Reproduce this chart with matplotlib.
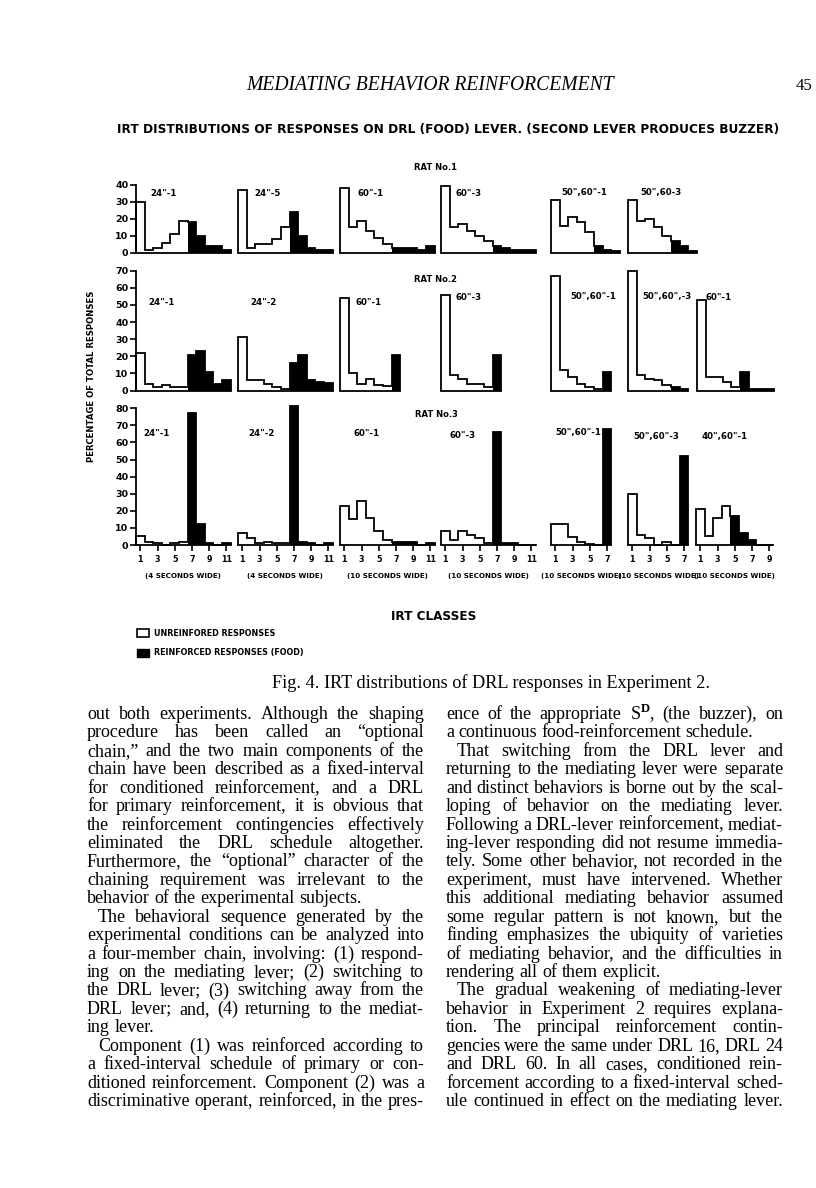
import numpy as np
import matplotlib
matplotlib.use("Agg")
import matplotlib.pyplot as plt
from matplotlib.patches import Patch

W, H = 816, 1188

# ---------------- data: percent of total responses in each IRT class ----------------
ROW1_NAMES = ['24"-1', '24"-5', '60"-1', '60"-3', '50",60"-1', '50",60-3']
ROW1_VALUES = [
    [30, 2, 3, 6, 11, 19, 18, 10, 4, 4, 2],
    [37, 3, 5, 5, 8, 15, 24, 10, 3, 2, 2],
    [38, 15, 19, 13, 9, 5, 3, 3, 3, 2, 4],
    [39, 15, 17, 13, 10, 7, 4, 3, 2, 2, 2],
    [31, 16, 21, 18, 12, 4, 2, 1],
    [31, 19, 20, 15, 10, 7, 4, 1],
]
ROW1_FOOD_FROM = [7, 7, 7, 7, 6, 6]   # first reinforced (food) IRT class

ROW2_NAMES = ['24"-1', '24"-2', '60"-1', '60"-3', '50",60"-1', '50",60",-3', '60"-1']
ROW2_VALUES = [
    [22, 4, 2, 3, 2, 2, 20.5, 23, 11, 4, 6],
    [31, 6, 6, 4, 2, 1, 16, 21, 6, 5, 4.5],
    [54, 10, 4, 7, 3.5, 2.5, 20.5],
    [56, 9, 7, 4, 4, 2, 20.5],
    [67, 12, 8, 4, 2, 1, 11],
    [70, 9, 7, 6, 3, 2, 1],
    [53, 8, 8, 5, 2, 11, 1, 1, 1],
]
ROW2_FOOD_FROM = [7, 7, 7, 7, 7, 6, 6]

ROW3_NAMES = ['24"-1', '24"-2', '60"-1', '60"-3', '50",60"-1', '50",60"-3', '40",60"-1']
ROW3_VALUES = [
    [5, 2, 1, 0, 1, 2, 77, 12, 1, 0, 1],
    [7, 4, 1, 2, 1, 1, 81, 2, 1, 0, 1],
    [23, 15, 26, 16, 8, 3, 2, 1.5, 1.5, 0, 1],
    [8, 3, 8, 6, 4, 1, 66, 1, 1, 0, 0],
    [12, 12, 4.5, 1.5, 0.5, 0, 68],
    [30, 6, 4, 0, 1.5, 0, 52],
    [21, 5, 16, 23, 17, 7, 3, 0, 0],
]
ROW3_FOOD_FROM = [7, 7, 7, 7, 7, 7, 5]
ROW3_WIDTHS = ["(4 SECONDS WIDE)", "(4 SECONDS WIDE)", "(10 SECONDS WIDE)",
               "(10 SECONDS WIDE)", "(10 SECONDS WIDE)", "(10 SECONDS WIDE)",
               "(10 SECONDS WIDE)"]

LEFT_TEXT = [
    "out both experiments. Although the shaping",
    "procedure has been called an \u201coptional",
    "chain,\u201d and the two main components of the",
    "chain have been described as a fixed-interval",
    "for conditioned reinforcement, and a DRL",
    "for primary reinforcement, it is obvious that",
    "the reinforcement contingencies effectively",
    "eliminated the DRL schedule altogether.",
    "Furthermore, the \u201coptional\u201d character of the",
    "chaining requirement was irrelevant to the",
    "behavior of the experimental subjects.",
    "\tThe behavioral sequence generated by the",
    "experimental conditions can be analyzed into",
    "a four-member chain, involving: (1) respond-",
    "ing on the mediating lever; (2) switching to",
    "the DRL lever; (3) switching away from the",
    "DRL lever; and, (4) returning to the mediat-",
    "ing lever.",
    "\tComponent (1) was reinforced according to",
    "a fixed-interval schedule of primary or con-",
    "ditioned reinforcement. Component (2) was a",
    "discriminative operant, reinforced, in the pres-",
]
RIGHT_TEXT = [
    "ence of the appropriate S$^{\\mathrm{D}}$, (the buzzer), on",
    "a continuous food-reinforcement schedule.",
    "\tThat switching from the DRL lever and",
    "returning to the mediating lever were separate",
    "and distinct behaviors is borne out by the scal-",
    "loping of behavior on the mediating lever.",
    "Following a DRL-lever reinforcement, mediat-",
    "ing-lever responding did not resume immedia-",
    "tely. Some other behavior, not recorded in the",
    "experiment, must have intervened. Whether",
    "this additional mediating behavior assumed",
    "some regular pattern is not known, but the",
    "finding emphasizes the ubiquity of varieties",
    "of mediating behavior, and the difficulties in",
    "rendering all of them explicit.",
    "\tThe gradual weakening of mediating-lever",
    "behavior in Experiment 2 requires explana-",
    "tion. The principal reinforcement contin-",
    "gencies were the same under DRL 16, DRL 24",
    "and DRL 60. In all cases, conditioned rein-",
    "forcement according to a fixed-interval sched-",
    "ule continued in effect on the mediating lever.",
]

# ---------------- layout (pixels) ----------------
PPU = 1.71      # px per percent
BIN = 8.6       # px per IRT class
LW = 1.3
SERIF = "Liberation Serif"
ROWS = [
    dict(names=ROW1_NAMES, values=ROW1_VALUES, food=ROW1_FOOD_FROM, base=253, ymax=40,
         lefts=[136, 238, 340, 441, 551, 628],
         labels=[(150, 193), (254, 193), (357, 193), (456, 193), (561, 193), (640, 193)],
         rat="RAT No.1", rat_y=168),
    dict(names=ROW2_NAMES, values=ROW2_VALUES, food=ROW2_FOOD_FROM, base=390.5, ymax=70,
         lefts=[136, 238, 340, 441, 551, 628, 697],
         labels=[(148, 303), (250, 303), (355, 303), (455, 297), (570, 297), (642, 297), (705, 297)],
         rat="RAT No.2", rat_y=279),
    dict(names=ROW3_NAMES, values=ROW3_VALUES, food=ROW3_FOOD_FROM, base=545, ymax=80,
         lefts=[136, 238, 340, 441, 551, 628, 696],
         labels=[(143, 434), (248, 434), (353, 434), (449, 435), (555, 433), (633, 436), (702, 436)],
         rat="RAT No.3", rat_y=415),
]

plt.rcParams["font.family"] = ["DejaVu Sans"]
plt.rcParams["font.weight"] = "bold"
plt.rcParams["mathtext.fontset"] = "custom"
plt.rcParams["mathtext.rm"] = SERIF

fig = plt.figure(figsize=(W / 100, H / 100), dpi=100)
rend = fig.canvas.get_renderer()


def put(x, y, s, size, ha="left", va="center", width=None, **kw):
    t = fig.text(x / W, 1 - y / H, s, fontsize=size, ha=ha, va=va, **kw)
    if width is not None:
        w = t.get_window_extent(rend).width
        t.set_fontsize(size * width / w)
    return t


def panel(left, base, ymax, vals, food_from, first, xticks):
    n = len(vals)
    ax = fig.add_axes([left / W, (H - base) / H, n * BIN / W, ymax * PPU / H])
    edges = np.arange(n + 1)
    food = [v if i + 1 >= food_from else 0 for i, v in enumerate(vals)]
    ax.bar(edges[:-1], food, width=1, align="edge", color="black", lw=0, clip_on=False)
    ax.stairs(vals, edges, baseline=0, fill=False, color="black", lw=LW, clip_on=False)
    ax.set_xlim(0, n)
    ax.set_ylim(0, ymax)
    ax.patch.set_visible(False)
    ax.spines[["top", "right"]].set_visible(False)
    ax.spines["left"].set_visible(first)
    ax.spines[["left", "bottom"]].set_linewidth(LW)
    if first:
        ax.set_yticks(np.arange(0, ymax + 1, 10))
        ax.tick_params(axis="y", length=4, width=1.2, pad=1.5, labelsize=6.8)
    else:
        ax.set_yticks([])
    if xticks:
        ax.set_xticks(np.arange(0.5, n, 2), [str(k) for k in range(1, n + 1, 2)])
        ax.tick_params(axis="x", length=4, width=1.2, pad=3.5, labelsize=5.8)
    else:
        ax.set_xticks([])
    return ax


for r, row in enumerate(ROWS):
    for i, vals in enumerate(row["values"]):
        ax = panel(row["lefts"][i], row["base"], row["ymax"], vals, row["food"][i],
                   i == 0, r == 2)
        lx, ly = row["labels"][i]
        put(lx, ly, row["names"][i], 6.2)
        if r == 2:
            cx = row["lefts"][i] + len(vals) * BIN / 2
            put(cx, 576, ROW3_WIDTHS[i], 5.1, ha="center")
    put(436, row["rat_y"], row["rat"], 6, ha="center", width=43)

# titles and labels
put(430, 86, "MEDIATING BEHAVIOR REINFORCEMENT", 13, ha="center", width=367,
    family=SERIF, style="italic", weight="normal")
put(812, 86, "45", 12, ha="right", family=SERIF, weight="normal")
put(448, 130, "IRT DISTRIBUTIONS OF RESPONSES ON DRL (FOOD) LEVER. (SECOND LEVER PRODUCES BUZZER)",
    8, ha="center", width=658)
yl = put(92, 376, "PERCENTAGE OF TOTAL RESPONSES", 6, ha="center", width=172)
yl.set_rotation(90)
put(434, 617, "IRT CLASSES", 8, ha="center", width=85)

fig.legend(handles=[Patch(facecolor="white", edgecolor="black", lw=1.2),
                    Patch(facecolor="black", edgecolor="black")],
           labels=["UNREINFORED RESPONSES", "REINFORCED RESPONSES (FOOD)"],
           loc="upper left", bbox_to_anchor=(137 / W, 1 - 629 / H), frameon=False,
           borderpad=0, borderaxespad=0, handlelength=1.5, handleheight=1.2,
           handletextpad=0.6, labelspacing=1.3, prop={"size": 5.8, "weight": "bold"})

put(491, 683, "Fig. 4. IRT distributions of DRL responses in Experiment 2.", 12,
    ha="center", width=437, family=SERIF, weight="normal")


# justified body text
STEP = 18.43
INDENT = 11
COLS = [(LEFT_TEXT, 87, 424), (RIGHT_TEXT, 446, 783)]


def widths(words, size):
    out = []
    for w in words:
        t = put(0, 0, w, size, family=SERIF, weight="normal")
        out.append(t.get_window_extent(rend).width)
        t.remove()
    return out


# pick the body size so the tightest justified line just fits with normal spaces
probe = 12
space = widths(["a b"], probe)[0] - widths(["ab"], probe)[0]
fit = []
for lines, x0, x1 in COLS:
    for i, line in enumerate(lines):
        if i + 1 < len(lines) and lines[i + 1].startswith("\t"):
            continue
        words = line.split()
        natural = sum(widths(words, probe)) + space * (len(words) - 1)
        room = x1 - x0 - (INDENT if line.startswith("\t") else 0)
        fit.append(room / natural)
BODY = probe * min(fit)
space *= min(fit)

for lines, x0, x1 in COLS:
    for i, line in enumerate(lines):
        words = line.split()
        ws = widths(words, BODY)
        start = x0 + (INDENT if line.startswith("\t") else 0)
        last = i + 1 < len(lines) and lines[i + 1].startswith("\t")
        gap = space if last else (x1 - start - sum(ws)) / (len(words) - 1)
        x = start
        y = 719 + i * STEP
        for w, wd in zip(words, ws):
            put(x, y, w, BODY, va="baseline", family=SERIF, weight="normal")
            x += wd + gap

fig.savefig("out.png", dpi=100, facecolor="white")
